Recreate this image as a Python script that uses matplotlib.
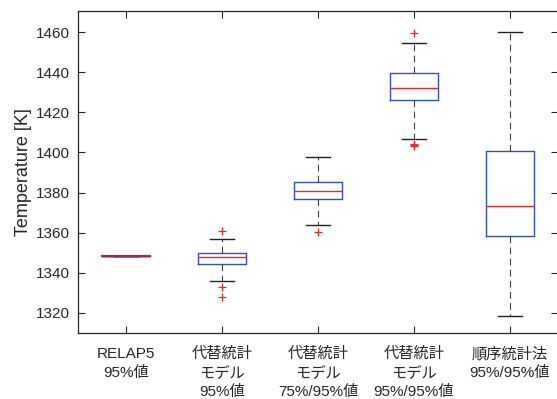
import matplotlib
matplotlib.use("Agg")
import matplotlib.pyplot as plt

plt.rcParams['font.family'] = ['Liberation Sans', 'Noto Sans CJK JP', 'DejaVu Sans']

labels = ["RELAP5\n95%値", "代替統計\nモデル\n95%値", "代替統計\nモデル\n75%/95%値",
          "代替統計\nモデル\n95%/95%値", "順序統計法\n95%/95%値"]
medians = [1348.4, 1347.7, 1380.9, 1432.3, 1373.2]
q1s = [1348.4, 1344.3, 1376.6, 1426.3, 1358.2]
q3s = [1348.4, 1350.0, 1385.4, 1439.4, 1400.9]
whislos = [1348.4, 1336.1, 1363.8, 1406.5, 1318.6]
whishis = [1348.4, 1356.7, 1397.6, 1454.7, 1460.2]
fliers = [[], [1360.8, 1333.0, 1328.0], [1360.2], [1459.7, 1404.3, 1403.5, 1403.0], []]

stats = []
for i in range(len(labels)):
    stats.append(dict(med=medians[i], q1=q1s[i], q3=q3s[i],
                      whislo=whislos[i], whishi=whishis[i], fliers=fliers[i]))

fig = plt.figure(figsize=(5.57, 3.99), dpi=100)
ax = fig.add_axes([78 / 557, 1 - 333 / 399, 480 / 557, 322 / 399])

blue = "#2f52b5"
red = "#e8262d"
ax.bxp(stats, positions=range(1, 6), widths=0.5, showfliers=True,
       boxprops=dict(color=blue, linewidth=1.0),
       medianprops=dict(color=red, linewidth=1.0),
       whiskerprops=dict(color="#404040", linewidth=0.8, linestyle=(0, (6, 4))),
       capprops=dict(color="#202020", linewidth=1.0),
       capwidths=0.24,
       flierprops=dict(marker='+', markeredgecolor=red, markersize=6, markeredgewidth=0.9))

# first box collapses to a single line: blue edges under the red median
ax.plot([0.75, 1.25], [medians[0], medians[0]], color="#8a3060", linewidth=1.6, zorder=3)

ax.set_xlim(0.5, 5.5)
ax.set_ylim(1310, 1470.5)
ax.set_yticks(range(1320, 1461, 20))
ax.set_xticks(range(1, 6))
ax.set_xticklabels(labels, fontsize=10, linespacing=1.45)
ax.set_ylabel("Temperature [K]", fontsize=13, color="#262626", labelpad=3)
ax.tick_params(direction='in', top=True, right=True, length=5, width=0.8,
               labelsize=11, colors="#262626", pad=6)
ax.tick_params(axis='x', pad=10)
for sp in ax.spines.values():
    sp.set_color("#262626")
    sp.set_linewidth(0.9)

fig.savefig("out.png", dpi=100)
